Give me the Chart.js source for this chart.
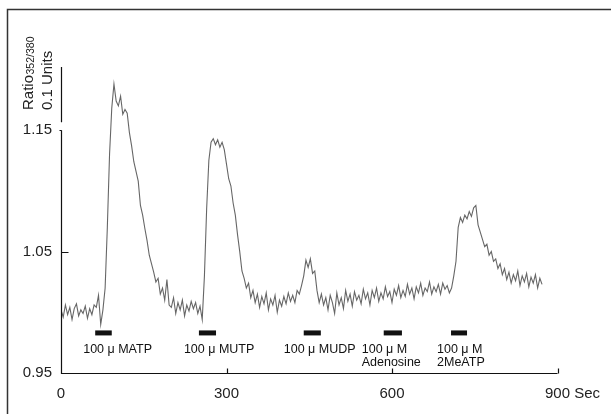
<!DOCTYPE html>
<html><head><meta charset="utf-8">
<script src="https://cdn.jsdelivr.net/npm/chart.js@4"></script>
<style>html,body{margin:0;padding:0;background:#fff;}#wrap{width:611px;height:414px;position:relative;}</style>
</head><body><div id="wrap"><canvas id="c" width="611" height="414"></canvas></div>
<script>
// ---- data ----
const SAMPLE_INTERVAL_SEC = 4;
const ratioValues = [
1.002,0.996,1.006,0.998,1.004,0.994,1.003,1.007,0.997,1.002,
0.999,1.005,0.995,1.003,0.998,1.006,1.004,1.014,0.990,1.002,
1.020,1.070,1.130,1.168,1.188,1.174,1.170,1.178,1.163,1.167,
1.164,1.148,1.137,1.124,1.116,1.108,1.088,1.080,1.069,1.059,
1.047,1.040,1.033,1.025,1.028,1.015,1.020,1.010,1.027,1.006,
1.004,1.012,0.999,1.008,1.002,1.010,0.997,1.006,1.001,1.009,
1.003,1.008,0.999,1.005,0.994,1.030,1.085,1.125,1.140,1.143,
1.138,1.142,1.136,1.140,1.134,1.122,1.110,1.104,1.090,1.080,
1.064,1.050,1.034,1.028,1.020,1.024,1.012,1.018,1.008,1.015,
1.004,1.013,1.007,1.016,1.002,1.011,1.006,1.014,1.000,1.010,
1.005,1.013,1.007,1.016,1.009,1.014,1.008,1.018,1.015,1.022,
1.030,1.043,1.037,1.044,1.032,1.034,1.018,1.008,1.015,1.006,
1.012,1.002,1.014,1.008,0.999,1.016,1.006,1.012,1.003,1.018,
1.009,1.015,1.005,1.017,1.010,1.014,1.007,1.019,1.011,1.016,
1.006,1.018,1.012,1.020,1.009,1.016,1.011,1.021,1.013,1.017,
1.008,1.019,1.014,1.022,1.012,1.018,1.013,1.023,1.015,1.020,
1.011,1.021,1.016,1.024,1.014,1.020,1.017,1.025,1.015,1.021,
1.017,1.023,1.015,1.024,1.019,1.022,1.016,1.020,1.030,1.042,
1.070,1.078,1.074,1.080,1.077,1.083,1.079,1.086,1.088,1.072,
1.066,1.060,1.054,1.056,1.047,1.050,1.042,1.044,1.036,1.040,
1.031,1.036,1.027,1.033,1.024,1.031,1.026,1.034,1.022,1.030,
1.025,1.032,1.021,1.029,1.024,1.031,1.020,1.028,1.023
];
const xTickValues = [0, 300, 600, 900];
const yTickValues = [0.95, 1.05, 1.15];
const stimStartSec = [62, 250, 440, 585, 707];
const stimEndSec   = [92, 281, 471, 618, 736];
const stimLabels = [["100 μ MATP"], ["100 μ MUTP"], ["100 μ MUDP"], ["100 μ M", "Adenosine"], ["100 μ M", "2MeATP"]];
const stimBarLevel = 0.983;

// ---- styling ----
const FONT = "'Liberation Sans', Arial, sans-serif";
const labelOffsetPx = [-12, -15, -20, -22, -14];
const Y_MIN = 0.95, Y_MAX = 1.202;

const points = ratioValues.map((v, i) => ({ x: i * SAMPLE_INTERVAL_SEC, y: v }));

const decor = {
  id: 'decor',
  afterDraw(chart) {
    const ctx = chart.ctx;
    const xs = chart.scales.x, ys = chart.scales.y;
    const ca = chart.chartArea;
    ctx.save();
    // frame
    ctx.strokeStyle = '#333';
    ctx.lineWidth = 1.5;
    ctx.beginPath();
    ctx.moveTo(7.5, 414); ctx.lineTo(7.5, 9.5); ctx.lineTo(611, 9.5);
    ctx.stroke();
    // axes
    ctx.strokeStyle = '#111';
    ctx.lineWidth = 1.2;
    const L = Math.round(ca.left) + 0.5;
    const B = Math.round(ca.bottom) + 0.5;
    const y115 = ys.getPixelForValue(1.15);
    ctx.beginPath();
    ctx.moveTo(L, ys.getPixelForValue(Y_MAX)); ctx.lineTo(L, y115 - 8);
    ctx.moveTo(L, y115); ctx.lineTo(L, B);
    ctx.lineTo(xs.getPixelForValue(900), B);
    // y ticks
    const y105 = Math.round(ys.getPixelForValue(1.05)) + 0.5;
    ctx.moveTo(L, y105); ctx.lineTo(L + 7, y105);
    ctx.moveTo(L - 2, Math.round(y115) + 0.5); ctx.lineTo(L, Math.round(y115) + 0.5);
    // x ticks
    [300, 600, 900].forEach(v => {
      const px = Math.round(xs.getPixelForValue(v)) + 0.5;
      ctx.moveTo(px, B); ctx.lineTo(px, B - 5);
    });
    ctx.stroke();
    // Sec label
    ctx.fillStyle = '#222';
    ctx.font = '15px ' + FONT;
    ctx.textBaseline = 'alphabetic';
    ctx.textAlign = 'left';
    const p900 = xs.getPixelForValue(900);
    ctx.fillText('Sec', p900 + ctx.measureText('900').width / 2 + ctx.measureText(' ').width, 398);
    // y title
    ctx.save();
    ctx.translate(33, 110);
    ctx.rotate(-Math.PI / 2);
    ctx.font = '15px ' + FONT;
    ctx.fillText('Ratio', 0, 0);
    const w = ctx.measureText('Ratio').width;
    ctx.font = '10.5px ' + FONT;
    ctx.fillText('352/380', w + 0.5, 1);
    ctx.restore();
    ctx.save();
    ctx.translate(52, 110);
    ctx.rotate(-Math.PI / 2);
    ctx.font = '15px ' + FONT;
    ctx.fillText('0.1 Units', 0, 0);
    ctx.restore();
    // stimulus bars and labels
    const by = ys.getPixelForValue(stimBarLevel);
    ctx.fillStyle = '#111';
    ctx.font = '12.5px ' + FONT;
    stimStartSec.forEach((s, i) => {
      const x0 = xs.getPixelForValue(s), x1 = xs.getPixelForValue(stimEndSec[i]);
      ctx.fillRect(x0, by - 2.5, x1 - x0, 5);
      stimLabels[i].forEach((t, j) => {
        ctx.fillText(t, x0 + labelOffsetPx[i], by + 20 + j * 13);
      });
    });
    ctx.restore();
  }
};

new Chart(document.getElementById('c'), {
  type: 'line',
  data: { datasets: [{ data: points, borderColor: 'rgba(75,75,75,0.85)', borderWidth: 1.1, pointRadius: 0, tension: 0, fill: false }] },
  options: {
    responsive: false, animation: false, devicePixelRatio: 1,
    layout: { padding: { top: 67, right: 53.5, left: 0, bottom: 0 } },
    plugins: { legend: { display: false }, tooltip: { enabled: false } },
    scales: {
      x: {
        type: 'linear', min: 0, max: 900,
        afterBuildTicks: s => { s.ticks = xTickValues.map(v => ({ value: v })); },
        afterFit: s => { s.height = 41; },
        grid: { display: false, drawTicks: false }, border: { display: false },
        ticks: { font: { size: 15, family: FONT }, color: '#222', padding: 12, maxRotation: 0, autoSkip: false }
      },
      y: {
        min: Y_MIN, max: Y_MAX,
        afterBuildTicks: s => { s.ticks = yTickValues.map(v => ({ value: v })); },
        afterFit: s => { s.width = 61; },
        grid: { display: false, drawTicks: false }, border: { display: false },
        ticks: { font: { size: 15, family: FONT }, color: '#222', padding: 9, callback: v => v.toFixed(2) }
      }
    }
  },
  plugins: [decor]
});
</script></body></html>
